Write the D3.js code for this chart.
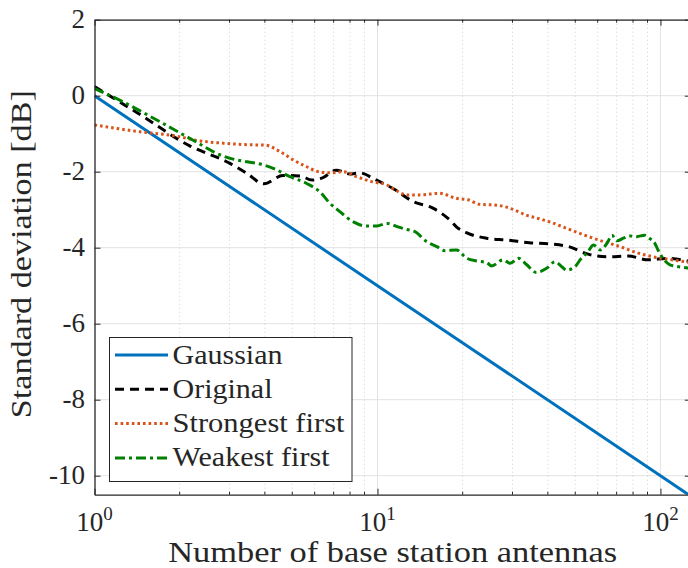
<!DOCTYPE html>
<html>
<head>
<meta charset="utf-8">
<script src="https://cdn.jsdelivr.net/npm/d3@7"></script>
<style>
	body { margin: 0; background: #fff; }
</style>
</head>
<body>
<svg class="chart-svg" width="688" height="568"></svg>
<script>

// values (x = number of antennas, y = dB)
var gaussN = [1, 10, 100, 128]
var gaussDb = [0, -5, -10, -10.54]

var origN = [1, 1.41, 2.17, 3.01, 3.45, 3.97, 4.63, 5.32, 5.87, 6.36, 7.15, 7.98, 8.66, 9.73, 11.5, 13.4, 15.7, 18, 19, 20.7, 24.3, 28.9, 34.4, 40.6, 47.3, 55.5, 65.3, 76.8, 90.6, 106, 128]
var origDb = [0.24, -0.44, -1.32, -1.78, -2.04, -2.32, -2.1, -2.11, -2.22, -2.17, -1.96, -2.06, -2.03, -2.19, -2.47, -2.79, -2.96, -3.27, -3.45, -3.61, -3.75, -3.8, -3.87, -3.9, -3.97, -4.17, -4.24, -4.22, -4.32, -4.28, -4.37]

var strongN = [1, 1.45, 1.9, 2.36, 2.85, 3.5, 4, 4.52, 5.04, 5.62, 6.18, 6.79, 7.57, 8.43, 9.53, 10.8, 11.5, 12.7, 14.1, 16.6, 19, 20.9, 23, 26.3, 30.1, 33.7, 37, 40.6, 46.6, 53.9, 62.9, 71.9, 82.4, 94.4, 108, 128]
var strongDb = [-0.77, -0.95, -1.05, -1.19, -1.25, -1.29, -1.3, -1.47, -1.69, -1.87, -2, -2.03, -2, -2.13, -2.26, -2.35, -2.47, -2.61, -2.61, -2.57, -2.7, -2.74, -2.86, -2.88, -2.99, -3.15, -3.23, -3.32, -3.49, -3.67, -3.84, -3.97, -4.13, -4.24, -4.31, -4.39]

var weakN = [1, 1.26, 1.66, 2.17, 2.85, 3.45, 3.74, 4.28, 4.91, 5.62, 6.26, 6.79, 7.36, 8.22, 9.16, 9.94, 10.8, 11.9, 12.7, 13.6, 14.9, 16.2, 17.3, 19, 20.7, 22.4, 24.3, 25.3, 27.8, 29.4, 31.5, 33.7, 36.4, 39.6, 42.4, 44.8, 46.6, 49.9, 52, 55.5, 58, 61.3, 64.8, 67.4, 70.2, 73.9, 77.9, 82.4, 88, 91.4, 95.5, 98, 102, 108, 116, 128]
var weakDb = [0.19, -0.16, -0.64, -1.12, -1.59, -1.74, -1.78, -1.91, -2.13, -2.31, -2.53, -2.83, -3.05, -3.32, -3.43, -3.43, -3.36, -3.46, -3.52, -3.58, -3.84, -3.97, -4.08, -4.06, -4.28, -4.35, -4.39, -4.48, -4.32, -4.41, -4.28, -4.45, -4.65, -4.54, -4.37, -4.5, -4.59, -4.5, -4.32, -4.1, -3.93, -4.06, -3.88, -3.67, -3.82, -3.75, -3.69, -3.71, -3.67, -3.75, -3.88, -4.06, -4.28, -4.45, -4.5, -4.54]

var seriesNames = ["Gaussian", "Original", "Strongest first", "Weakest first"]
var xMajor = [1, 10, 100]
var yTicks = [-10, -8, -6, -4, -2, 0, 2]

var series = [
	{name: seriesNames[0], n: gaussN, db: gaussDb, color: "#0072BD", dash: null, w: 110},
	{name: seriesNames[1], n: origN, db: origDb, color: "#000000", dash: "9,6", w: 100},
	{name: seriesNames[2], n: strongN, db: strongDb, color: "#D95319", dash: "2.6,3", w: 172},
	{name: seriesNames[3], n: weakN, db: weakDb, color: "#008000", dash: "10,4,3,4", w: 157}
]

var serifFont = "'Liberation Serif', 'DejaVu Serif', 'Times New Roman', Times, serif"
var textColor = "#262626"

// plot box (note: "top" is taken by window.top, so prefixed names)
var pLeft = 94.5, pRight = 690.8, pTop = 19.7, pBottom = 494.7
var svg = d3.select(".chart-svg")

var xScale = d3.scaleLog().domain([1, 128]).range([pLeft, pRight])
var yScale = d3.scaleLinear().domain([-10.5, 2]).range([pBottom, pTop])

// minor x ticks 2..9, 20..90
var xMinor = []
for (var d = 1; d <= 10; d *= 10) {
	for (var k = 2; k < 10; k++) { xMinor.push(k * d) }
}

svg.append("rect").attr("width", 688).attr("height", 568).attr("fill", "#fff")

var grid = svg.append("g").attr("class", "grid")
grid.selectAll(".hgrid")
	.data(yTicks).enter()
	.append("line")
	.attr("x1", pLeft).attr("x2", pRight)
	.attr("y1", function(d) { return yScale(d) })
	.attr("y2", function(d) { return yScale(d) })
	.attr("stroke", "#e3e3e3").attr("stroke-width", 1)
grid.selectAll(".vminor")
	.data(xMinor).enter()
	.append("line")
	.attr("x1", function(d) { return xScale(d) })
	.attr("x2", function(d) { return xScale(d) })
	.attr("y1", pTop).attr("y2", pBottom)
	.attr("stroke", "#d0d0d0").attr("stroke-width", 1)
	.attr("stroke-dasharray", "1,3")
grid.selectAll(".vmajor")
	.data(xMajor.slice(1)).enter()
	.append("line")
	.attr("x1", function(d) { return xScale(d) })
	.attr("x2", function(d) { return xScale(d) })
	.attr("y1", pTop).attr("y2", pBottom)
	.attr("stroke", "#e3e3e3").attr("stroke-width", 1)

svg.append("clipPath").attr("id", "plot-clip")
	.append("rect")
	.attr("x", pLeft).attr("y", pTop)
	.attr("width", pRight - pLeft).attr("height", pBottom - pTop)

var line = d3.line()
	.x(function(d) { return xScale(d[0]) })
	.y(function(d) { return yScale(d[1]) })
	.curve(d3.curveMonotoneX)

var lines = svg.append("g").attr("clip-path", "url(#plot-clip)")
series.forEach(function(s) {
	var pts = s.n.map(function(v, i) { return [v, s.db[i]] })
	lines.append("path")
		.datum(pts)
		.attr("d", line)
		.attr("fill", "none")
		.attr("stroke", s.color)
		.attr("stroke-width", 3)
		.attr("stroke-dasharray", s.dash)
})

// axes, box style with ticks pointing inwards
var axisColor = "#262626"
var bottomAxis = d3.axisBottom(xScale).tickValues(xMajor).tickSizeInner(-6).tickSizeOuter(0).tickFormat("")
var topAxis = d3.axisTop(xScale).tickValues(xMajor).tickSizeInner(-6).tickSizeOuter(0).tickFormat("")
var leftAxis = d3.axisLeft(yScale).tickValues(yTicks).tickSizeInner(-6).tickSizeOuter(0).tickFormat("")
var rightAxis = d3.axisRight(yScale).tickValues(yTicks).tickSizeInner(-6).tickSizeOuter(0).tickFormat("")

function styleAxis(g) {
	g.select(".domain").attr("stroke", axisColor).attr("stroke-width", 1.3)
	g.selectAll(".tick line").attr("stroke", axisColor).attr("stroke-width", 1)
}
svg.append("g").attr("transform", "translate(0," + pBottom + ")").call(bottomAxis).call(styleAxis)
svg.append("g").attr("transform", "translate(0," + pTop + ")").call(topAxis).call(styleAxis)
svg.append("g").attr("transform", "translate(" + pLeft + ",0)").call(leftAxis).call(styleAxis)
svg.append("g").attr("transform", "translate(" + pRight + ",0)").call(rightAxis).call(styleAxis)

// minor ticks on bottom and top
var minorTicks = svg.append("g")
xMinor.forEach(function(v) {
	minorTicks.append("line")
		.attr("x1", xScale(v)).attr("x2", xScale(v))
		.attr("y1", pBottom).attr("y2", pBottom - 3)
		.attr("stroke", axisColor)
	minorTicks.append("line")
		.attr("x1", xScale(v)).attr("x2", xScale(v))
		.attr("y1", pTop).attr("y2", pTop + 3)
		.attr("stroke", axisColor)
})

// all text goes in one group carrying the serif font
var texts = svg.append("g")
	.attr("font-family", serifFont)
	.attr("fill", textColor)

// tick labels
texts.selectAll(".ylab")
	.data(yTicks).enter()
	.append("text")
	.attr("font-family", serifFont)
	.attr("x", 85)
	.attr("y", function(d) { return yScale(d) + 8.5 })
	.attr("text-anchor", "end")
	.attr("font-size", 27)
	.text(function(d) { return d })

xMajor.forEach(function(v, i) {
	var t = texts.append("text")
		.attr("font-family", serifFont)
		.attr("x", xScale(v))
		.attr("y", 531)
		.attr("text-anchor", "middle")
		.attr("font-size", 27)
	t.append("tspan").text("10")
	t.append("tspan").attr("font-size", 19).attr("dy", -11).text(i)
})

texts.append("text")
	.attr("font-family", serifFont)
	.attr("x", (pLeft + pRight) / 2)
	.attr("y", 562)
	.attr("text-anchor", "middle")
	.attr("font-size", 29)
	.attr("textLength", 449)
	.attr("lengthAdjust", "spacingAndGlyphs")
	.text("Number of base station antennas")

texts.append("text")
	.attr("font-family", serifFont)
	.attr("transform", "translate(31," + ((pTop + pBottom) / 2 - 3) + ") rotate(-90)")
	.attr("text-anchor", "middle")
	.attr("font-size", 29)
	.attr("textLength", 328)
	.attr("lengthAdjust", "spacingAndGlyphs")
	.text("Standard deviation [dB]")

// legend
var legend = svg.append("g").attr("class", "legend")
legend.append("rect")
	.attr("x", 109.5).attr("y", 337.5)
	.attr("width", 242.5).attr("height", 144)
	.attr("fill", "#fff")
	.attr("stroke", axisColor).attr("stroke-width", 1)
series.forEach(function(s, i) {
	var ly = 355 + i * 34.3
	legend.append("line")
		.attr("x1", 115).attr("x2", 168)
		.attr("y1", ly).attr("y2", ly)
		.attr("stroke", s.color)
		.attr("stroke-width", 3)
		.attr("stroke-dasharray", s.dash)
	legend.append("text")
		.attr("font-family", serifFont)
		.attr("fill", textColor)
		.attr("x", 172.5)
		.attr("y", ly + 8.5)
		.attr("font-size", 27)
		.attr("textLength", s.w)
		.attr("lengthAdjust", "spacingAndGlyphs")
		.text(s.name)
})

</script>
</body>
</html>
